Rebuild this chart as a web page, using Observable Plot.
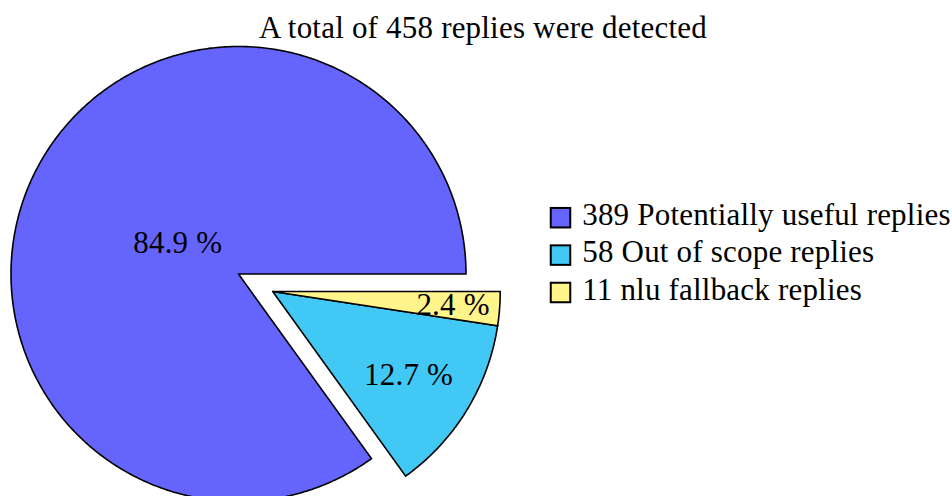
<!DOCTYPE html>
<html><head><meta charset="utf-8">
<script src="https://cdn.jsdelivr.net/npm/d3@7"></script>
<script src="https://cdn.jsdelivr.net/npm/@observablehq/plot@0.6"></script>
<style>
body{margin:0;background:#fff;}
#title{width:952px;height:46px;box-sizing:border-box;padding-top:8.5px;padding-left:14px;line-height:37.5px;text-align:center;font-family:"Liberation Serif",serif;font-size:31px;letter-spacing:0.2px;white-space:nowrap;color:#000;}
#chart svg{display:block;overflow:visible;letter-spacing:0.2px;}
</style></head><body>
<div id="title"></div>
<div id="chart"></div>
<script>
// ---- data ----
const titleText = "A total of 458 replies were detected";
const categories = ["Potentially useful replies", "Out of scope replies", "nlu fallback replies"];
const counts = [389, 58, 11];
const colors = ["#6565fe", "#41c8f4", "#fff58a"];

// ---- layout config ----
const exploded = [false, true, true];
const EXPLODE = 0.169;
const labelRadius = [0.3, 0.7, 0.795];
const W = 952, H = 450, R = 227.5, CX = 238, CY = 227.5;
const FONT = "Liberation Serif";
const FS = 31;

document.getElementById("title").textContent = titleText;

const total = d3.sum(counts);
const fmt = d3.format(".1f");
let acc = 0;
const slices = counts.map((c, i) => {
  const a0 = acc / total * 2 * Math.PI; acc += c;
  const a1 = acc / total * 2 * Math.PI;
  return {i, name: categories[i], count: c, a0, a1, pct: fmt(c / total * 100) + " %"};
});
const ex = slices.filter(s => exploded[s.i]);
const gmid = (ex[0].a0 + ex[ex.length - 1].a1) / 2;
slices.forEach(s => {
  const e = exploded[s.i];
  s.ox = e ? EXPLODE * Math.cos(gmid) : 0;
  s.oy = e ? EXPLODE * Math.sin(gmid) : 0;
  const mid = (s.a0 + s.a1) / 2;
  s.lx = s.ox + labelRadius[s.i] * Math.cos(mid);
  s.ly = s.oy + labelRadius[s.i] * Math.sin(mid);
});

// polygon outlines of the sectors
const pts = [];
slices.forEach(s => {
  pts.push({name: s.name, x: s.ox, y: s.oy});
  const n = Math.max(2, Math.ceil((s.a1 - s.a0) / (Math.PI / 360)));
  for (let k = 0; k <= n; k++) {
    const t = s.a0 + (s.a1 - s.a0) * k / n;
    pts.push({name: s.name, x: s.ox + Math.cos(t), y: s.oy + Math.sin(t)});
  }
  pts.push({name: s.name, x: s.ox, y: s.oy});
});

// pixel -> data helpers (for the legend placement)
const X = px => (px - CX) / R;
const Y = py => (CY - py) / R;
const LEG_X = 560.5, LEG_Y0 = 171.7, LEG_DY = 37.4, SQ = 19.5, LEG_TX = 581.7, LEG_BASE = 6.6;
const legend = slices.map((s, k) => ({
  name: s.name,
  label: `${s.count} ${s.name}`,
  x1: X(LEG_X - SQ / 2), x2: X(LEG_X + SQ / 2),
  y1: Y(LEG_Y0 + k * LEG_DY - SQ / 2), y2: Y(LEG_Y0 + k * LEG_DY + SQ / 2),
  tx: X(LEG_TX), ty: Y(LEG_Y0 + k * LEG_DY + LEG_BASE)
}));

const chart = Plot.plot({
  width: W, height: H,
  margin: 0,
  style: {fontFamily: FONT, fontSize: FS + "px", background: "#fff", color: "#000"},
  x: {domain: [X(0), X(W)], range: [0, W], axis: null},
  y: {domain: [Y(H), Y(0)], range: [H, 0], axis: null},
  color: {domain: categories, range: colors},
  marks: [
    Plot.line(pts, {x: "x", y: "y", z: "name", fill: "name", stroke: "#000", strokeWidth: 1.6,
      strokeLinejoin: "miter", strokeMiterlimit: 10, curve: "linear"}),
    Plot.text(slices, {x: "lx", y: "ly", text: "pct", fill: "#000", fontSize: FS, lineAnchor: "middle", textAnchor: "middle"}),
    Plot.rect(legend, {x1: "x1", x2: "x2", y1: "y1", y2: "y2", fill: "name", stroke: "#000", strokeWidth: 2}),
    Plot.text(legend, {x: "tx", y: "ty", text: "label", fill: "#000", fontSize: FS, textAnchor: "start", lineAnchor: "bottom"})
  ]
});
document.getElementById("chart").appendChild(chart);
</script>
</body></html>
